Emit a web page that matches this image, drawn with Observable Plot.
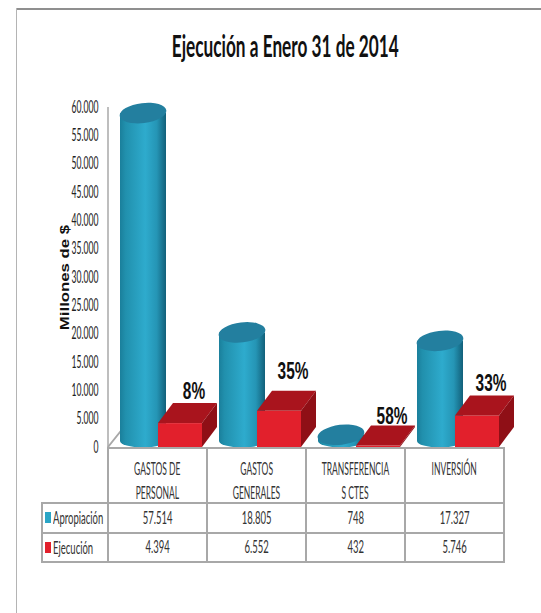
<!DOCTYPE html>
<html><head><meta charset="utf-8">
<script src="https://cdn.jsdelivr.net/npm/d3@7"></script>
<script src="https://cdn.jsdelivr.net/npm/@observablehq/plot@0.6"></script>
<style>
html,body{margin:0;padding:0;background:#fff;}
#page{position:relative;width:541px;height:613px;overflow:hidden;font-family:Lato,sans-serif;}
#frameTop{position:absolute;left:16px;top:8px;right:0;height:2px;background:#8f8f8f;}
#frameLeft{position:absolute;left:16px;top:8px;width:1px;height:605px;background:#b4b4b4;}
#title{position:absolute;left:85px;width:400px;top:25px;height:40px;line-height:40px;display:flex;justify-content:center;font-size:31px;font-weight:700;color:#111;white-space:nowrap;}
#title span{flex:none;display:block;}
#chart{position:absolute;left:0;top:0;}
table{position:absolute;left:41px;top:447px;border-collapse:collapse;table-layout:fixed;width:464px;color:#333;font-size:17px;text-align:center;}
td{border:2px solid #a8a8a8;padding:0;box-sizing:border-box;overflow:visible;}
td.blank{border-left:none;border-top:none;}
tr.head td{height:55px;vertical-align:top;}
tr.head .n{position:relative;top:8px;height:24px;line-height:24px;}
tr.head .n span{transform:scale(.5,1);}
tr.row td{height:29.5px;}
.n{display:flex;justify-content:center;white-space:nowrap;height:24px;line-height:24px;}
.n span{flex:none;display:block;transform:scale(.56,1);}
.lab{display:flex;align-items:center;white-space:nowrap;height:24px;}
.key{flex:none;display:block;width:5.5px;height:11px;margin:0 2px 0 2px;}
.lab b{font-weight:400;flex:none;display:block;transform:scale(.56,1);transform-origin:left center;}
</style></head>
<body><div id="page">
<div id="frameTop"></div><div id="frameLeft"></div>
<div id="chart"></div>
<div id="title"></div>
<table id="tbl"></table>
</div>
<script>
const titleText = "Ejecución a Enero 31 de 2014";
const yLabel = "Millones de $";
const categories = ["GASTOS DE PERSONAL","GASTOS GENERALES","TRANSFERENCIA S CTES","INVERSIÓN"];
const headerLines = [["GASTOS DE","PERSONAL"],["GASTOS","GENERALES"],["TRANSFERENCIA","S  CTES"],["INVERSIÓN"]];
const apropiacion = [57514,18805,748,17327];
const ejecucion = [4394,6552,432,5746];
const porcentajes = ["8%","35%","58%","33%"];
const seriesNames = ["Apropiación","Ejecución"];
const seriesColors = ["#2aa5c6","#e2202c"];
const yTicks = [0,5000,10000,15000,20000,25000,30000,35000,40000,45000,50000,55000,60000];
const fmt = d3.format(",");
const es = v => fmt(v).replace(/,/g,".");

const titleSpan = document.createElement("span");
titleSpan.textContent = titleText;
document.getElementById("title").appendChild(titleSpan);
const natural = titleSpan.getBoundingClientRect().width;
titleSpan.style.transform = `scale(${227/natural},1)`;

const aprop = categories.map((c,i)=>({c,v:apropiacion[i]}));
const ejec = categories.map((c,i)=>({c,v:ejecucion[i],p:porcentajes[i]}));
const svgNS = "http://www.w3.org/2000/svg";
const DEPTH_X = 15, DEPTH_Y = 20;

function el(name, attrs, parent){
  const e = document.createElementNS(svgNS,name);
  for(const k in attrs) e.setAttribute(k,attrs[k]);
  if(parent) parent.appendChild(e);
  return e;
}

const renderFloor = (index,scales)=>{
  const g = el("g",{});
  const x0=scales.x(categories[0]), x1=scales.x(categories[3])+scales.x.bandwidth, y0=scales.y(0);
  el("polygon",{points:`${x0},${y0} ${x0+16},${y0-20} ${x1+16},${y0-20} ${x1},${y0}`,fill:"#fbfbfb",stroke:"#a8a8a8","stroke-width":2},g);
  el("line",{x1:x0,x2:x0,y1:scales.y(60000),y2:y0,stroke:"#a8a8a8","stroke-width":1.5},g);
  return g;
};

const renderCyl = (index,scales)=>{
  const g = el("g",{});
  const defs = el("defs",{},g);
  const lg = el("linearGradient",{id:"cyl",x1:0,x2:1,y1:0,y2:0},defs);
  [[0,"#1a7f9b"],[0.12,"#2190ad"],[0.55,"#2eabcd"],[0.8,"#2595b5"],[1,"#12607a"]].forEach(([o,c])=>el("stop",{offset:o,"stop-color":c},lg));
  for(const i of index){
    const left = scales.x(aprop[i].c)+12, w=46, cx=left+w/2, rx=w/2;
    const yb = scales.y(0)-6, yt = scales.y(aprop[i].v)-8;
    el("path",{d:`M${left},${yt} L${left},${yb} A${rx},6.5 0 0 0 ${left+w},${yb} L${left+w},${yt} Z`,fill:"url(#cyl)"},g);
    el("ellipse",{cx,cy:yt,rx:rx+0.5,ry:10,fill:"#237f9f",transform:`rotate(-7 ${cx} ${yt})`},g);
  }
  return g;
};

const renderBox = (index,scales)=>{
  const g = el("g",{});
  for(const i of index){
    const left = scales.x(ejec[i].c)+50, w=44;
    const yb = scales.y(0), yt = scales.y(ejec[i].v)+1;
    el("rect",{x:left,y:yt,width:w,height:Math.max(0,yb-yt),fill:"#e2202c"},g);
    el("polygon",{points:`${left},${yt} ${left+DEPTH_X},${yt-DEPTH_Y} ${left+w+DEPTH_X},${yt-DEPTH_Y} ${left+w},${yt}`,fill:"#a9141d"},g);
    el("polygon",{points:`${left+w},${yt} ${left+w+DEPTH_X},${yt-DEPTH_Y} ${left+w+DEPTH_X},${yb-DEPTH_Y} ${left+w},${yb}`,fill:"#8f0f16"},g);
  }
  return g;
};

const pctStyle = {x:"c",y:"v",text:"p",dx:36,fontSize:23,fontWeight:"bold",fill:"#111",fontFamily:"Liberation Sans"};
const plot = Plot.plot({
  width:541, height:613,
  marginLeft:107, marginRight:36, marginTop:107, marginBottom:166,
  style:{background:"transparent",overflow:"visible"},
  x:{domain:categories,padding:0,axis:null},
  y:{domain:[0,60000],axis:null},
  marks:[
    Plot.barY(aprop,{x:"c",y:"v",render:renderFloor}),
    Plot.axisY(yTicks,{anchor:"left",tickSize:0,tickPadding:9,tickFormat:es,fontSize:16.5,fill:"#222",fontFamily:"Lato",label:null,className:"ticks52"}),
    Plot.barY(aprop,{x:"c",y:"v",render:renderCyl}),
    Plot.barY(ejec,{x:"c",y:"v",render:renderBox}),
    Plot.text(ejec,{...pctStyle,filter:d=>d.p!=="35%"&&d.p!=="58%",dy:-31,className:"pct"}),
    Plot.text(ejec,{...pctStyle,filter:d=>d.p==="58%",dy:-28,className:"pct"}),
    Plot.text(ejec,{...pctStyle,filter:d=>d.p==="35%",dy:-39,className:"pct"}),
    Plot.text([yLabel],{frameAnchor:"left",textAnchor:"middle",rotate:-90,dx:-43,fontSize:13,fontWeight:"bold",fill:"#111",fontFamily:"Liberation Sans",className:"ylab"})
  ]
});
document.getElementById("chart").appendChild(plot);

function fit(sel,f){
  plot.querySelectorAll(sel).forEach(t=>{
    t.setAttribute("textLength",t.getComputedTextLength()*f);
    t.setAttribute("lengthAdjust","spacingAndGlyphs");
  });
}
fit(".ticks52 text",.52);
fit(".pct text",.67);
fit(".ylab text",1.29);

const cell = s => `<div class="n"><span>${s}</span></div>`;
const t = document.getElementById("tbl");
t.innerHTML = `<colgroup><col style="width:66px"><col><col><col><col></colgroup>`+
 `<tr class="head"><td class="blank"></td>${headerLines.map(l=>`<td>${l.map(cell).join("")}</td>`).join("")}</tr>`+
 [apropiacion,ejecucion].map((vals,r)=>`<tr class="row"><td><div class="lab"><span class="key" style="background:${seriesColors[r]}"></span><b>${seriesNames[r]}</b></div></td>${vals.map(v=>`<td>${cell(es(v))}</td>`).join("")}</tr>`).join("");
</script>
</body></html>
